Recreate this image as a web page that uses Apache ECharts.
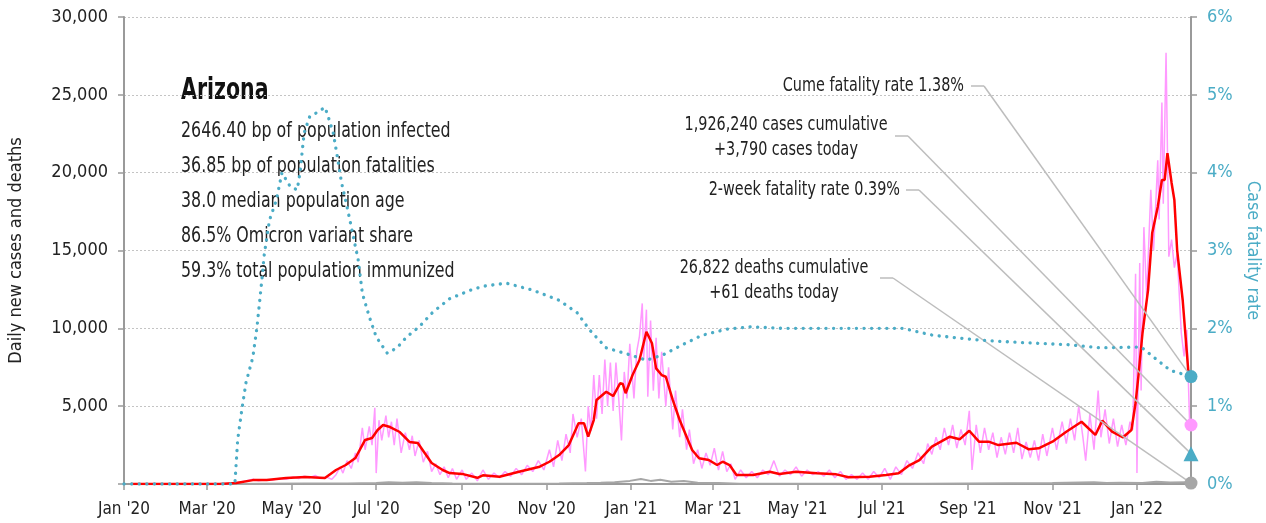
<!DOCTYPE html>
<html>
<head>
<meta charset="utf-8">
<script src="https://cdn.jsdelivr.net/npm/echarts@6/dist/echarts.min.js"></script>
<style>
html, body { margin: 0; padding: 0; background: #fff; }
#chart { width: 1266px; height: 523px; }
</style>
</head>
<body>
<div id="chart"></div>
<script>
var FONT = "'DejaVu Sans Condensed', 'Liberation Sans', sans-serif";
var TEAL = '#4bacc6';

// x-axis tick positions (every two months)
var tickDates = ['2020-01-01','2020-03-01','2020-05-01','2020-07-01','2020-09-01','2020-11-01',
    '2021-01-01','2021-03-01','2021-05-01','2021-07-01','2021-09-01','2021-11-01','2022-01-01'];
var firstDate = '2020-01-01';
var lastDate = '2022-02-09';

// daily new cases (pink)
var casesDaily = [
    ['2020-01-06',0],['2020-03-10',0],['2020-03-15',10],['2020-03-22',80],['2020-03-29',200],['2020-04-03',300],
    ['2020-04-07',200],['2020-04-12',280],['2020-04-17',250],['2020-04-22',350],['2020-04-27',300],['2020-05-02',450],
    ['2020-05-06',350],['2020-05-10',500],['2020-05-14',400],['2020-05-18',550],['2020-05-22',350],['2020-05-26',450],
    ['2020-05-30',300],['2020-06-02',600],['2020-06-05',1100],['2020-06-07',700],['2020-06-10',1500],['2020-06-13',1000],
    ['2020-06-16',2000],['2020-06-18',1400],['2020-06-21',3600],['2020-06-23',2200],['2020-06-26',3700],['2020-06-28',2500],
    ['2020-06-30',4900],['2020-07-01',700],['2020-07-03',4100],['2020-07-05',2800],['2020-07-08',4400],['2020-07-10',3000],
    ['2020-07-12',4000],['2020-07-14',2500],['2020-07-16',4200],['2020-07-19',2000],['2020-07-22',3300],['2020-07-25',2200],
    ['2020-07-27',3100],['2020-07-29',1800],['2020-08-01',2800],['2020-08-04',1400],['2020-08-07',2100],['2020-08-10',800],
    ['2020-08-13',1300],['2020-08-16',600],['2020-08-19',1100],['2020-08-22',400],['2020-08-25',1000],['2020-08-28',300],
    ['2020-09-01',900],['2020-09-04',300],['2020-09-08',700],['2020-09-12',200],['2020-09-16',900],['2020-09-20',300],
    ['2020-09-24',700],['2020-09-28',400],['2020-10-02',800],['2020-10-06',500],['2020-10-10',1000],['2020-10-14',600],
    ['2020-10-18',1200],['2020-10-22',800],['2020-10-26',1500],['2020-10-30',900],['2020-11-03',2200],['2020-11-06',1100],
    ['2020-11-09',2800],['2020-11-12',1500],['2020-11-15',3200],['2020-11-18',2000],['2020-11-20',4500],['2020-11-23',3000],
    ['2020-11-26',4200],['2020-11-29',800],['2020-12-01',5000],['2020-12-03',3400],['2020-12-05',7000],['2020-12-07',4200],
    ['2020-12-09',7000],['2020-12-11',4500],['2020-12-13',8000],['2020-12-15',5000],['2020-12-17',7800],['2020-12-19',4700],
    ['2020-12-21',7800],['2020-12-23',5500],['2020-12-25',2800],['2020-12-27',7200],['2020-12-29',5500],['2020-12-31',9000],
    ['2021-01-03',5500],['2021-01-05',8500],['2021-01-07',9500],['2021-01-09',11600],['2021-01-10',8000],['2021-01-12',11200],
    ['2021-01-13',5600],['2021-01-15',10500],['2021-01-17',6000],['2021-01-19',9400],['2021-01-21',5500],['2021-01-23',8500],
    ['2021-01-26',5000],['2021-01-28',7500],['2021-01-31',3500],['2021-02-02',6000],['2021-02-05',3000],['2021-02-07',4800],
    ['2021-02-10',2200],['2021-02-12',3500],['2021-02-15',1300],['2021-02-18',2200],['2021-02-21',1000],['2021-02-24',2000],
    ['2021-02-27',1200],['2021-03-02',2300],['2021-03-05',900],['2021-03-08',2100],['2021-03-11',800],['2021-03-14',1300],
    ['2021-03-17',300],['2021-03-21',900],['2021-03-25',400],['2021-03-29',800],['2021-04-02',400],['2021-04-06',900],
    ['2021-04-10',600],['2021-04-14',1500],['2021-04-18',500],['2021-04-22',900],['2021-04-26',600],['2021-04-30',1100],
    ['2021-05-04',500],['2021-05-08',900],['2021-05-12',600],['2021-05-16',800],['2021-05-20',500],['2021-05-24',900],
    ['2021-05-28',400],['2021-06-01',800],['2021-06-05',300],['2021-06-09',600],['2021-06-13',300],['2021-06-17',700],
    ['2021-06-21',300],['2021-06-25',800],['2021-06-29',400],['2021-07-03',1000],['2021-07-07',300],['2021-07-11',1100],
    ['2021-07-15',600],['2021-07-19',1500],['2021-07-23',1000],['2021-07-27',2000],['2021-07-31',1300],['2021-08-03',2600],
    ['2021-08-06',1900],['2021-08-09',3000],['2021-08-12',2200],['2021-08-15',3600],['2021-08-18',2500],['2021-08-21',3800],
    ['2021-08-24',2300],['2021-08-27',3500],['2021-08-30',2500],['2021-09-02',4700],['2021-09-04',900],['2021-09-07',3800],
    ['2021-09-10',2000],['2021-09-13',3600],['2021-09-16',2200],['2021-09-19',3300],['2021-09-22',1700],['2021-09-25',3000],
    ['2021-09-28',1900],['2021-10-01',3300],['2021-10-04',2000],['2021-10-07',3600],['2021-10-10',1600],['2021-10-13',2700],
    ['2021-10-16',1700],['2021-10-19',2800],['2021-10-22',1500],['2021-10-25',3200],['2021-10-28',1800],['2021-11-01',3600],
    ['2021-11-04',2200],['2021-11-08',4000],['2021-11-11',2600],['2021-11-14',4200],['2021-11-17',2800],['2021-11-20',5000],
    ['2021-11-23',3000],['2021-11-25',1500],['2021-11-28',4500],['2021-12-01',2200],['2021-12-04',6000],['2021-12-06',3000],
    ['2021-12-09',4800],['2021-12-12',2600],['2021-12-15',4200],['2021-12-18',2400],['2021-12-21',3800],['2021-12-24',2500],
    ['2021-12-27',4000],['2021-12-29',3500],['2021-12-31',13500],['2022-01-01',700],['2022-01-03',14200],['2022-01-04',6000],
    ['2022-01-06',16500],['2022-01-08',12000],['2022-01-11',18900],['2022-01-13',15000],['2022-01-16',20800],['2022-01-17',17000],
    ['2022-01-19',24500],['2022-01-20',18000],['2022-01-22',27700],['2022-01-23',21500],['2022-01-24',14600],['2022-01-26',15700],
    ['2022-01-28',13900],['2022-01-30',14800],['2022-02-02',9700],['2022-02-04',8200],['2022-02-06',9900],['2022-02-08',3900],
    ['2022-02-09',3790]
];

// 7-day average of new cases (red)
var casesAvg = [
    ['2020-01-06',0],['2020-03-10',0],['2020-03-22',60],['2020-04-03',250],['2020-04-13',250],['2020-04-27',380],
    ['2020-05-11',450],['2020-05-25',380],['2020-06-02',900],['2020-06-09',1220],['2020-06-16',1670],['2020-06-23',2830],
    ['2020-06-28',2950],['2020-07-02',3470],['2020-07-06',3790],['2020-07-11',3660],['2020-07-18',3340],['2020-07-25',2700],
    ['2020-07-31',2630],['2020-08-05',1990],['2020-08-10',1350],['2020-08-18',900],['2020-08-23',700],['2020-09-01',650],
    ['2020-09-12',400],['2020-09-16',560],['2020-09-28',470],['2020-10-12',790],['2020-10-27',1110],['2020-11-03',1430],
    ['2020-11-10',1860],['2020-11-17',2500],['2020-11-24',3900],['2020-11-28',3900],['2020-12-01',3040],['2020-12-05',4110],
    ['2020-12-07',5400],['2020-12-14',5930],['2020-12-19',5650],['2020-12-24',6470],['2020-12-26',6420],['2020-12-28',5830],
    ['2021-01-02',7000],['2021-01-07',7970],['2021-01-12',9780],['2021-01-16',9040],['2021-01-19',7430],['2021-01-23',7000],
    ['2021-01-26',6890],['2021-01-31',5400],['2021-02-05',4110],['2021-02-10',3040],['2021-02-14',2180],['2021-02-19',1650],
    ['2021-02-26',1540],['2021-03-04',1220],['2021-03-08',1430],['2021-03-13',1220],['2021-03-18',580],['2021-03-30',580],
    ['2021-04-11',790],['2021-04-18',640],['2021-04-30',790],['2021-05-15',690],['2021-05-29',620],['2021-06-07',430],
    ['2021-06-22',470],['2021-07-04',580],['2021-07-13',690],['2021-07-20',1160],['2021-07-28',1540],['2021-08-06',2400],
    ['2021-08-19',3040],['2021-08-26',2870],['2021-09-02',3420],['2021-09-09',2720],['2021-09-16',2720],['2021-09-23',2500],
    ['2021-10-06',2650],['2021-10-15',2230],['2021-10-22',2290],['2021-11-01',2720],['2021-11-11',3360],['2021-11-22',4000],
    ['2021-12-02',3150],['2021-12-07',4070],['2021-12-14',3360],['2021-12-22',3000],['2021-12-28',3470],['2021-12-31',5200],
    ['2022-01-02',6900],['2022-01-05',9700],['2022-01-09',12460],['2022-01-12',16120],['2022-01-14',16960],['2022-01-16',17800],
    ['2022-01-19',19530],['2022-01-21',19530],['2022-01-23',21260],['2022-01-26',19340],['2022-01-28',18240],['2022-01-30',15030],
    ['2022-02-03',11820],['2022-02-07',7320],['2022-02-09',7000]
];

// daily deaths (gray)
var deathsDaily = [
    ['2020-01-06',0],['2020-03-20',0],['2020-04-10',20],['2020-05-10',25],['2020-06-10',30],['2020-07-01',60],
    ['2020-07-10',110],['2020-07-20',80],['2020-07-30',120],['2020-08-10',60],['2020-08-25',30],['2020-09-15',15],
    ['2020-10-15',10],['2020-11-10',30],['2020-11-30',60],['2020-12-10',80],['2020-12-20',120],['2020-12-31',200],
    ['2021-01-08',320],['2021-01-15',200],['2021-01-22',280],['2021-01-30',150],['2021-02-08',200],['2021-02-18',80],
    ['2021-03-05',60],['2021-03-20',20],['2021-05-01',15],['2021-07-01',10],['2021-08-01',20],['2021-09-01',40],
    ['2021-10-01',50],['2021-11-01',60],['2021-12-01',120],['2021-12-10',60],['2021-12-20',80],['2022-01-05',60],
    ['2022-01-15',150],['2022-01-25',90],['2022-02-05',120],['2022-02-09',61]
];

// cumulative case fatality rate, % (teal dotted)
var fatalityRate = [
    ['2020-01-01',0],['2020-03-21',0],['2020-03-23',0.56],['2020-03-26',0.95],['2020-03-29',1.30],['2020-04-03',1.63],
    ['2020-04-06',2.02],['2020-04-10',2.71],['2020-04-11',2.92],['2020-04-15',3.39],['2020-04-20',3.65],['2020-04-24',4.00],
    ['2020-04-30',3.82],['2020-05-05',3.78],['2020-05-07',4.00],['2020-05-10',4.51],['2020-05-14',4.72],['2020-05-19',4.77],
    ['2020-05-25',4.84],['2020-05-27',4.74],['2020-05-31',4.51],['2020-06-03',4.20],['2020-06-06',3.87],['2020-06-10',3.56],
    ['2020-06-14',3.22],['2020-06-18',2.88],['2020-06-21',2.45],['2020-06-26',2.15],['2020-07-01',1.89],['2020-07-09',1.68],
    ['2020-07-16',1.75],['2020-07-23',1.89],['2020-08-01',2.02],['2020-08-11',2.21],['2020-08-23',2.38],['2020-09-07',2.49],
    ['2020-09-16',2.54],['2020-10-03',2.58],['2020-10-22',2.49],['2020-11-10',2.36],['2020-11-23',2.20],['2020-12-02',1.98],
    ['2020-12-14',1.75],['2020-12-31',1.66],['2021-01-12',1.59],['2021-01-24',1.66],['2021-02-07',1.79],['2021-02-21',1.91],
    ['2021-03-11',1.99],['2021-03-28',2.02],['2021-04-20',2.00],['2021-05-15',2.00],['2021-07-16',2.00],['2021-08-07',1.91],
    ['2021-09-08',1.85],['2021-10-07',1.82],['2021-11-12',1.79],['2021-12-06',1.75],['2022-01-04',1.76],['2022-01-13',1.63],
    ['2022-01-25',1.46],['2022-02-09',1.38]
];

// latest values shown with markers
var cumeFatality = 1.38;
var twoWeekFatality = 0.39;
var casesToday = 3790;
var deathsToday = 61;

var statLines = [
    '2646.40 bp of population infected',
    '36.85 bp of population fatalities',
    '38.0 median population age',
    '86.5% Omicron variant share',
    '59.3% total population immunized'
];

function toTime(s) {
    var p = s.split('-');
    return new Date(+p[0], +p[1] - 1, +p[2]).getTime();
}
function withTime(rows) {
    return rows.map(function (r) { return [toTime(r[0]), r[1]]; });
}
var monthNames = ['Jan','Feb','Mar','Apr','May','Jun','Jul','Aug','Sep','Oct','Nov','Dec'];
var tickValues = tickDates.map(toTime);
var lastTime = toTime(lastDate);

var leader = {
    silent: true,
    symbol: ['none', 'none'],
    animation: false,
    label: { show: false },
    emphasis: { disabled: true },
    lineStyle: { color: '#bdbdbd', width: 1.5, type: 'solid' }
};
function leaderLines(x, y, value) {
    return [
        [{ x: x, y: y }, { x: x + 13, y: y }],
        [{ x: x + 13, y: y }, { coord: [lastTime, value] }]
    ];
}

// narrow text: the reference uses a condensed face, so squeeze horizontally
function note(x, y, text, size, align, extra) {
    var style = { text: text, font: size + 'px ' + FONT, fill: '#222', align: align, verticalAlign: 'middle' };
    if (extra) { for (var k in extra) { style[k] = extra[k]; } }
    return { type: 'text', x: x, y: y, scaleX: 0.8, style: style };
}

var graphics = [
    { type: 'text', x: 181, y: 91, scaleX: 0.76,
      style: { text: 'Arizona', font: 'bold 30px ' + FONT, fill: '#111', align: 'left', verticalAlign: 'middle' } }
];
statLines.forEach(function (t, i) {
    graphics.push(note(181, 131 + i * 35, t, 22, 'left'));
});
graphics.push(
    note(964, 86, 'Cume fatality rate 1.38%', 20, 'right'),
    note(786, 137, '1,926,240 cases cumulative\n+3,790 cases today', 20, 'center', { lineHeight: 25 }),
    note(900, 190, '2-week fatality rate 0.39%', 20, 'right'),
    note(774, 280, '26,822 deaths cumulative\n+61 deaths today', 20, 'center', { lineHeight: 25 })
);

var myChart = echarts.init(document.getElementById('chart'));

var option = {
    animation: false,
    backgroundColor: '#fff',
    textStyle: { fontFamily: FONT },
    grid: { left: 124, right: 75, top: 17, bottom: 39, outerBoundsMode: 'none', containLabel: false },
    xAxis: {
        type: 'value',
        min: toTime(firstDate),
        max: lastTime,
        axisLine: { lineStyle: { color: '#9a9a9a', width: 2 } },
        axisTick: { customValues: tickValues, length: 6, lineStyle: { color: '#9a9a9a', width: 1.5 } },
        axisLabel: {
            customValues: tickValues,
            color: '#222',
            fontSize: 17,
            margin: 17,
            formatter: function (value) {
                var d = new Date(value);
                return monthNames[d.getMonth()] + " '" + String(d.getFullYear()).slice(2);
            }
        },
        splitLine: { show: false }
    },
    yAxis: [
        {
            type: 'value',
            min: 0,
            max: 30000,
            interval: 5000,
            name: 'Daily new cases and deaths',
            nameLocation: 'middle',
            nameRotate: 90,
            nameGap: 99,
            nameTextStyle: { color: '#222', fontSize: 18 },
            axisLine: { show: true, lineStyle: { color: '#9a9a9a', width: 2 } },
            axisTick: { show: true, length: 6, lineStyle: { color: '#9a9a9a', width: 1.5 } },
            axisLabel: {
                color: '#222',
                fontSize: 18,
                margin: 16,
                formatter: function (v) { return v === 0 ? '' : v.toLocaleString('en-US'); }
            },
            splitLine: { lineStyle: { color: '#c4c4c4', type: [2, 2], width: 1 } }
        },
        {
            type: 'value',
            min: 0,
            max: 6,
            interval: 1,
            position: 'right',
            name: 'Case fatality rate',
            nameLocation: 'middle',
            nameRotate: -90,
            nameGap: 43,
            nameTextStyle: { color: TEAL, fontSize: 18 },
            axisLine: { show: true, lineStyle: { color: '#9a9a9a', width: 2 } },
            axisTick: { show: true, length: 6, lineStyle: { color: '#9a9a9a', width: 1.5 } },
            axisLabel: { color: TEAL, fontSize: 18, margin: 16, formatter: '{value}%' },
            splitLine: { show: false }
        }
    ],
    graphic: graphics,
    series: [
        {
            name: 'Daily deaths',
            type: 'line',
            yAxisIndex: 0,
            data: withTime(deathsDaily),
            showSymbol: false,
            lineStyle: { color: '#a6a6a6', width: 2 },
            z: 2,
            markLine: Object.assign({}, leader, {
                data: leaderLines(880, 278, deathsToday)
            }),
            markPoint: {
                silent: true, animation: false,
                label: { show: false },
                data: [{ coord: [lastTime, deathsToday], symbol: 'circle', symbolSize: 13, itemStyle: { color: '#a6a6a6' } }]
            }
        },
        {
            name: 'Daily new cases',
            type: 'line',
            yAxisIndex: 0,
            data: withTime(casesDaily),
            showSymbol: false,
            lineStyle: { color: '#ff99ff', width: 1.5 },
            z: 3,
            markLine: Object.assign({}, leader, {
                data: leaderLines(895, 136, casesToday)
            }),
            markPoint: {
                silent: true, animation: false,
                label: { show: false },
                data: [{ coord: [lastTime, casesToday], symbol: 'circle', symbolSize: 13, itemStyle: { color: '#ff99ff' } }]
            }
        },
        {
            name: '7-day average',
            type: 'line',
            yAxisIndex: 0,
            data: withTime(casesAvg),
            showSymbol: false,
            lineStyle: { color: '#ff0000', width: 2.5 },
            z: 4
        },
        {
            name: 'Case fatality rate',
            type: 'line',
            yAxisIndex: 1,
            data: withTime(fatalityRate),
            showSymbol: false,
            lineStyle: { color: TEAL, width: 3.3, type: [0.1, 7.5], cap: 'round' },
            z: 5,
            markLine: Object.assign({}, leader, {
                data: leaderLines(971, 86, cumeFatality)
                    .concat(leaderLines(906, 190, twoWeekFatality))
            }),
            markPoint: {
                silent: true, animation: false,
                label: { show: false },
                data: [
                    { coord: [lastTime, cumeFatality], symbol: 'circle', symbolSize: 13, itemStyle: { color: TEAL } },
                    { coord: [lastTime, twoWeekFatality], symbol: 'triangle', symbolSize: 15, itemStyle: { color: TEAL } }
                ]
            }
        }
    ]
};

myChart.setOption(option);
</script>
</body>
</html>
